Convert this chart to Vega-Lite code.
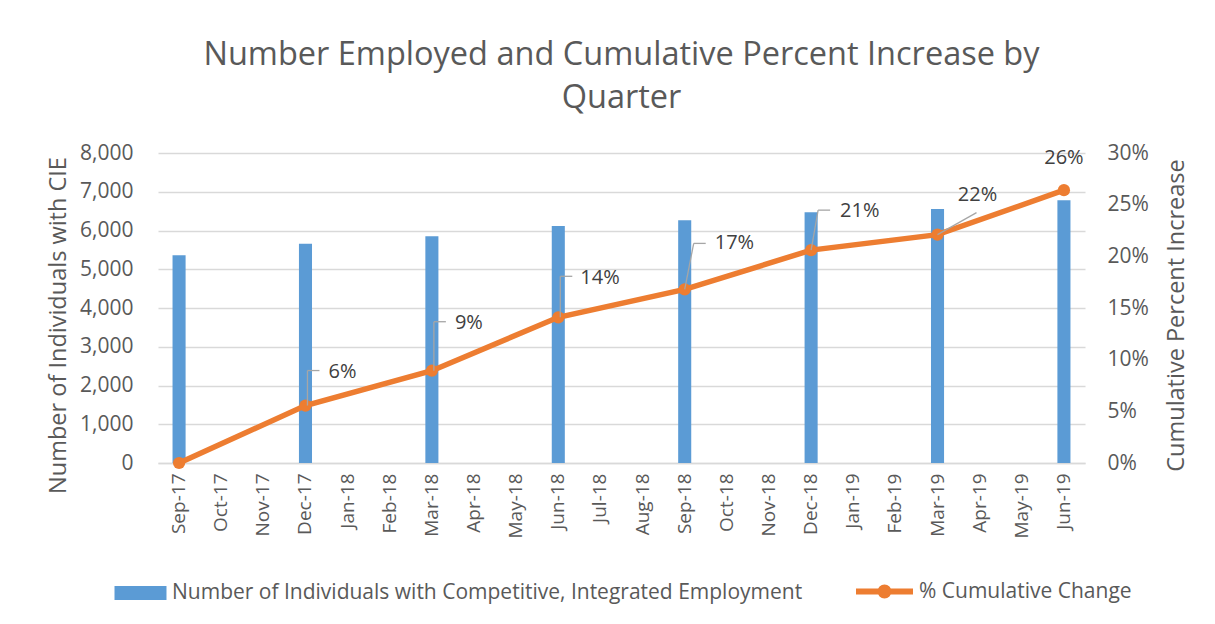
{
  "$schema": "https://vega.github.io/schema/vega-lite/v6.json",
  "width": 927,
  "height": 310,
  "autosize": {"type": "none"},
  "padding": {"left": 158, "top": 153, "right": 130, "bottom": 161},
  "background": "white",
  "title": {
    "text": ["Number Employed and Cumulative Percent Increase by", "Quarter"],
    "font": "Open Sans",
    "fontSize": 32.5,
    "fontWeight": "normal",
    "color": "#595959",
    "anchor": "middle",
    "offset": 28,
    "lineHeight": 43
  },
  "data": {
    "values": [
      {"month": "Sep-17", "employed": 5360, "pct": 0},
      {"month": "Dec-17", "employed": 5660, "pct": 0.0556},
      {"month": "Mar-18", "employed": 5850, "pct": 0.0893},
      {"month": "Jun-18", "employed": 6115, "pct": 0.141},
      {"month": "Sep-18", "employed": 6262, "pct": 0.168},
      {"month": "Dec-18", "employed": 6470, "pct": 0.206},
      {"month": "Mar-19", "employed": 6553, "pct": 0.221},
      {"month": "Jun-19", "employed": 6778, "pct": 0.264}
    ]
  },
  "encoding": {
    "x": {
      "field": "month",
      "type": "ordinal",
      "sort": null,
      "scale": {
        "domain": ["Sep-17","Oct-17","Nov-17","Dec-17","Jan-18","Feb-18","Mar-18","Apr-18","May-18","Jun-18","Jul-18","Aug-18","Sep-18","Oct-18","Nov-18","Dec-18","Jan-19","Feb-19","Mar-19","Apr-19","May-19","Jun-19"],
        "paddingInner": 0,
        "paddingOuter": 0
      },
      "axis": {
        "title": null,
        "labelAngle": -90,
        "labelPadding": 10,
        "labelFontSize": 19,
        "ticks": false,
        "grid": false,
        "domain": true,
        "domainColor": "#D9D9D9",
        "domainWidth": 1.5
      }
    }
  },
  "layer": [
    {
      "mark": {"type": "bar", "width": {"band": 0.31}},
      "encoding": {
        "y": {
          "field": "employed",
          "type": "quantitative",
          "scale": {"domain": [0, 8000], "nice": false},
          "axis": {
            "title": "Number of Individuals with CIE",
            "titleFontSize": 23.5,
            "titleY": 172,
            "values": [0,1000,2000,3000,4000,5000,6000,7000,8000],
            "format": ",.0f",
            "grid": true,
            "gridColor": "#D9D9D9",
            "gridWidth": 1.5,
            "domain": false,
            "ticks": false,
            "labelFontSize": 21,
            "labelPadding": 25,
            "titlePadding": 9
          }
        },
        "color": {
          "datum": "Number of Individuals with Competitive, Integrated Employment",
          "type": "nominal",
          "scale": {"range": ["#5B9BD5"]},
          "legend": {
            "title": null,
            "orient": "bottom",
            "symbolType": "M-0.912,-0.245H0.912V0.245H-0.912Z",
            "symbolSize": 3249,
            "symbolStrokeWidth": 0,
            "labelOffset": 3
          }
        }
      }
    },
    {
      "encoding": {
        "y": {
          "field": "pct",
          "type": "quantitative",
          "scale": {"domain": [0, 0.3], "nice": false},
          "axis": {
            "orient": "right",
            "title": "Cumulative Percent Increase",
            "titleAngle": -90,
            "titleBaseline": "top",
            "titleFontSize": 23.5,
            "titleY": 162,
            "values": [0,0.05,0.1,0.15,0.2,0.25,0.3],
            "format": ".0%",
            "grid": false,
            "domain": false,
            "ticks": false,
            "labelFontSize": 21,
            "labelPadding": 22,
            "titlePadding": 16
          }
        }
      },
      "layer": [
        {
          "mark": {"type": "line", "strokeWidth": 5.5},
          "encoding": {
            "stroke": {
              "datum": "% Cumulative Change",
              "type": "nominal",
              "scale": {"range": ["#ED7D31"]},
              "legend": {
                "title": null,
                "orient": "bottom",
                "symbolType": "M-1,0H1M-0.14,0A0.14,0.14,0,1,1,0.14,0A0.14,0.14,0,1,1,-0.14,0Z",
                "symbolSize": 3249,
                "symbolStrokeWidth": 6,
                "symbolFillColor": "#ED7D31",
                "labelOffset": 3
              }
            }
          }
        },
        {
          "mark": {"type": "circle", "size": 150, "color": "#ED7D31", "opacity": 1}
        },
        {
          "transform": [{"filter": "datum.month === 'Dec-17'"}],
          "layer": [
            {"mark": {"type": "rule", "color": "#A6A6A6", "strokeWidth": 1.3, "xOffset": 2, "x2Offset": 2, "y2Offset": -35},
             "encoding": {"x2": {"field": "month", "bandPosition": 0.5}, "y2": {"field": "pct"}}},
            {"mark": {"type": "rule", "color": "#A6A6A6", "strokeWidth": 1.3, "xOffset": 2, "x2Offset": 14, "yOffset": -35, "y2Offset": -35},
             "encoding": {"x2": {"field": "month", "bandPosition": 0.5}, "y2": {"field": "pct"}}},
            {"mark": {"type": "text", "align": "left", "baseline": "middle", "dx": 23, "dy": -34, "fontSize": 20, "color": "#404040"},
             "encoding": {"text": {"field": "pct", "type": "quantitative", "format": ".0%"}}}
          ]
        },
        {
          "transform": [{"filter": "datum.month === 'Mar-18'"}],
          "layer": [
            {"mark": {"type": "rule", "color": "#A6A6A6", "strokeWidth": 1.3, "xOffset": 2, "x2Offset": 2, "y2Offset": -49},
             "encoding": {"x2": {"field": "month", "bandPosition": 0.5}, "y2": {"field": "pct"}}},
            {"mark": {"type": "rule", "color": "#A6A6A6", "strokeWidth": 1.3, "xOffset": 2, "x2Offset": 14, "yOffset": -49, "y2Offset": -49},
             "encoding": {"x2": {"field": "month", "bandPosition": 0.5}, "y2": {"field": "pct"}}},
            {"mark": {"type": "text", "align": "left", "baseline": "middle", "dx": 23, "dy": -48, "fontSize": 20, "color": "#404040"},
             "encoding": {"text": {"field": "pct", "type": "quantitative", "format": ".0%"}}}
          ]
        },
        {
          "transform": [{"filter": "datum.month === 'Jun-18'"}],
          "layer": [
            {"mark": {"type": "rule", "color": "#A6A6A6", "strokeWidth": 1.3, "xOffset": 2, "x2Offset": 2, "y2Offset": -41},
             "encoding": {"x2": {"field": "month", "bandPosition": 0.5}, "y2": {"field": "pct"}}},
            {"mark": {"type": "rule", "color": "#A6A6A6", "strokeWidth": 1.3, "xOffset": 2, "x2Offset": 14, "yOffset": -41, "y2Offset": -41},
             "encoding": {"x2": {"field": "month", "bandPosition": 0.5}, "y2": {"field": "pct"}}},
            {"mark": {"type": "text", "align": "left", "baseline": "middle", "dx": 22, "dy": -39, "fontSize": 20, "color": "#404040"},
             "encoding": {"text": {"field": "pct", "type": "quantitative", "format": ".0%"}}}
          ]
        },
        {
          "transform": [{"filter": "datum.month === 'Sep-18'"}],
          "layer": [
            {"mark": {"type": "rule", "color": "#A6A6A6", "strokeWidth": 1.3, "xOffset": 0, "x2Offset": 9, "y2Offset": -46},
             "encoding": {"x2": {"field": "month", "bandPosition": 0.5}, "y2": {"field": "pct"}}},
            {"mark": {"type": "rule", "color": "#A6A6A6", "strokeWidth": 1.3, "xOffset": 9, "x2Offset": 21, "yOffset": -46, "y2Offset": -46},
             "encoding": {"x2": {"field": "month", "bandPosition": 0.5}, "y2": {"field": "pct"}}},
            {"mark": {"type": "text", "align": "left", "baseline": "middle", "dx": 30, "dy": -46, "fontSize": 20, "color": "#404040"},
             "encoding": {"text": {"field": "pct", "type": "quantitative", "format": ".0%"}}}
          ]
        },
        {
          "transform": [{"filter": "datum.month === 'Dec-18'"}],
          "layer": [
            {"mark": {"type": "rule", "color": "#A6A6A6", "strokeWidth": 1.3, "xOffset": 0, "x2Offset": 7, "y2Offset": -40},
             "encoding": {"x2": {"field": "month", "bandPosition": 0.5}, "y2": {"field": "pct"}}},
            {"mark": {"type": "rule", "color": "#A6A6A6", "strokeWidth": 1.3, "xOffset": 7, "x2Offset": 19, "yOffset": -40, "y2Offset": -40},
             "encoding": {"x2": {"field": "month", "bandPosition": 0.5}, "y2": {"field": "pct"}}},
            {"mark": {"type": "text", "align": "left", "baseline": "middle", "dx": 29, "dy": -39, "fontSize": 20, "color": "#404040"},
             "encoding": {"text": {"field": "pct", "type": "quantitative", "format": ".0%"}}}
          ]
        },
        {
          "transform": [{"filter": "datum.month === 'Mar-19'"}],
          "layer": [
            {"mark": {"type": "rule", "color": "#A6A6A6", "strokeWidth": 1.3, "xOffset": 0, "x2Offset": 39, "y2Offset": -22},
             "encoding": {"x2": {"field": "month", "bandPosition": 0.5}, "y2": {"field": "pct"}}},
            {"mark": {"type": "text", "align": "center", "baseline": "middle", "dx": 40, "dy": -40, "fontSize": 20, "color": "#404040"},
             "encoding": {"text": {"field": "pct", "type": "quantitative", "format": ".0%"}}}
          ]
        },
        {
          "transform": [{"filter": "datum.month === 'Jun-19'"}],
          "mark": {"type": "text", "align": "center", "baseline": "middle", "dy": -32, "fontSize": 20, "color": "#404040"},
          "encoding": {"text": {"field": "pct", "type": "quantitative", "format": ".0%"}}
        }
      ]
    }
  ],
  "resolve": {"scale": {"y": "independent"}},
  "config": {
    "font": "Open Sans",
    "view": {"stroke": null},
    "text": {"font": "Open Sans"},
    "axis": {
      "labelFont": "Open Sans",
      "labelFontSize": 20,
      "labelColor": "#595959",
      "titleFont": "Open Sans",
      "titleFontSize": 20,
      "titleFontWeight": "normal",
      "titleColor": "#595959"
    },
    "legend": {
      "labelFont": "Open Sans",
      "labelFontSize": 21,
      "labelColor": "#595959",
      "labelLimit": 0,
      "offset": 21,
      "padding": 0,
      "layout": {"bottom": {"anchor": "middle", "direction": "horizontal", "margin": 50, "center": true}}
    }
  }
}
